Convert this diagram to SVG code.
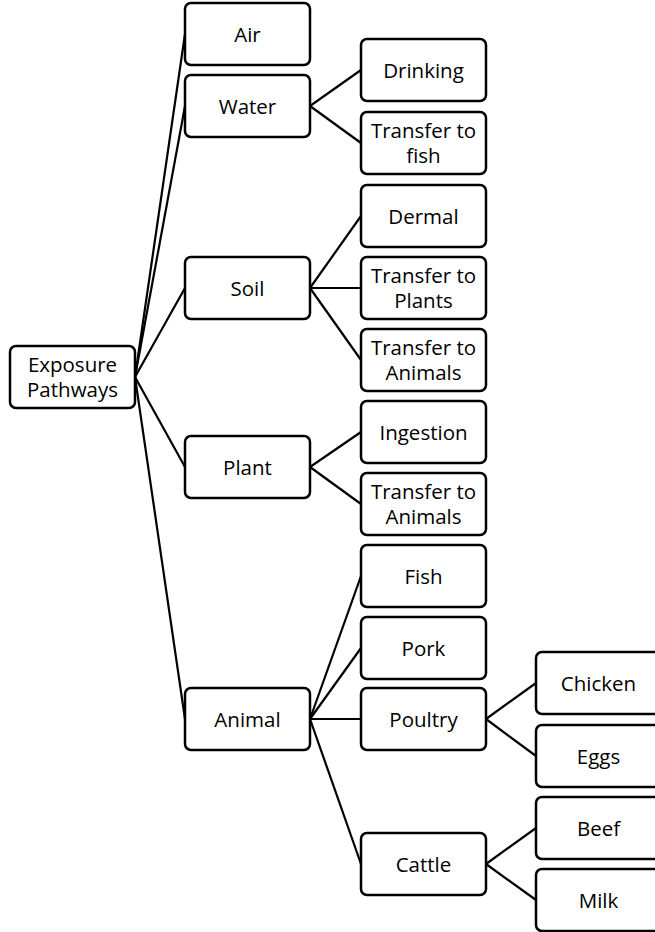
<svg xmlns="http://www.w3.org/2000/svg" width="655" height="932" viewBox="0 0 655 932">
<style>
.box{fill:#fff;stroke:#000;stroke-width:2.5}
.lbl{font-family:"Open Sans","Noto Sans",sans-serif;font-size:20.5px;fill:#000;text-anchor:middle}
.con line{stroke:#000;stroke-width:2.2}
</style>
<rect width="655" height="932" fill="#fff"/>
<g id="connectors" class="con">
<line x1="135" y1="377" x2="185" y2="34"/>
<line x1="135" y1="377" x2="185" y2="106"/>
<line x1="135" y1="377" x2="185" y2="288"/>
<line x1="135" y1="377" x2="185" y2="467"/>
<line x1="135" y1="377" x2="185" y2="719"/>
<line x1="310" y1="106" x2="361" y2="70"/>
<line x1="310" y1="106" x2="361" y2="143"/>
<line x1="310" y1="288" x2="361" y2="216"/>
<line x1="310" y1="288" x2="361" y2="288"/>
<line x1="310" y1="288" x2="361" y2="360"/>
<line x1="310" y1="467" x2="361" y2="432"/>
<line x1="310" y1="467" x2="361" y2="504"/>
<line x1="310" y1="719" x2="361" y2="576"/>
<line x1="310" y1="719" x2="361" y2="648"/>
<line x1="310" y1="719" x2="361" y2="719"/>
<line x1="310" y1="719" x2="361" y2="864"/>
<line x1="486" y1="719" x2="536" y2="683"/>
<line x1="486" y1="719" x2="536" y2="756"/>
<line x1="486" y1="864" x2="536" y2="828"/>
<line x1="486" y1="864" x2="536" y2="900"/>
</g>
<g id="exposure"><rect class="box" x="10" y="346" width="125" height="62" rx="6"/><text class="lbl" x="72.5" y="372">Exposure</text><text class="lbl" x="72.5" y="397">Pathways</text></g>
<g id="air"><rect class="box" x="185" y="3" width="125" height="62" rx="6"/><text class="lbl" x="247.5" y="41.5">Air</text></g>
<g id="water"><rect class="box" x="185" y="75" width="125" height="62" rx="6"/><text class="lbl" x="247.5" y="113.5">Water</text></g>
<g id="soil"><rect class="box" x="185" y="257" width="125" height="62" rx="6"/><text class="lbl" x="247.5" y="295.5">Soil</text></g>
<g id="plant"><rect class="box" x="185" y="436" width="125" height="62" rx="6"/><text class="lbl" x="247.5" y="474.5">Plant</text></g>
<g id="animal"><rect class="box" x="185" y="688" width="125" height="62" rx="6"/><text class="lbl" x="247.5" y="726.5">Animal</text></g>
<g id="drinking"><rect class="box" x="361" y="39" width="125" height="62" rx="6"/><text class="lbl" x="423.5" y="77.5">Drinking</text></g>
<g id="transfer-fish"><rect class="box" x="361" y="112" width="125" height="62" rx="6"/><text class="lbl" x="423.5" y="137.5">Transfer to</text><text class="lbl" x="423.5" y="162.5">fish</text></g>
<g id="dermal"><rect class="box" x="361" y="185" width="125" height="62" rx="6"/><text class="lbl" x="423.5" y="223.5">Dermal</text></g>
<g id="transfer-plants"><rect class="box" x="361" y="257" width="125" height="62" rx="6"/><text class="lbl" x="423.5" y="283">Transfer to</text><text class="lbl" x="423.5" y="308">Plants</text></g>
<g id="transfer-animals-soil"><rect class="box" x="361" y="329" width="125" height="62" rx="6"/><text class="lbl" x="423.5" y="355">Transfer to</text><text class="lbl" x="423.5" y="380">Animals</text></g>
<g id="ingestion"><rect class="box" x="361" y="401" width="125" height="62" rx="6"/><text class="lbl" x="423.5" y="439.5">Ingestion</text></g>
<g id="transfer-animals-plant"><rect class="box" x="361" y="473" width="125" height="62" rx="6"/><text class="lbl" x="423.5" y="499">Transfer to</text><text class="lbl" x="423.5" y="524">Animals</text></g>
<g id="fish"><rect class="box" x="361" y="545" width="125" height="62" rx="6"/><text class="lbl" x="423.5" y="583.5">Fish</text></g>
<g id="pork"><rect class="box" x="361" y="617" width="125" height="62" rx="6"/><text class="lbl" x="423.5" y="655.5">Pork</text></g>
<g id="poultry"><rect class="box" x="361" y="688" width="125" height="62" rx="6"/><text class="lbl" x="423.5" y="726.5">Poultry</text></g>
<g id="cattle"><rect class="box" x="361" y="833" width="125" height="62" rx="6"/><text class="lbl" x="423.5" y="871.5">Cattle</text></g>
<g id="chicken"><rect class="box" x="536" y="652" width="125" height="62" rx="6"/><text class="lbl" x="598.5" y="690.5">Chicken</text></g>
<g id="eggs"><rect class="box" x="536" y="725" width="125" height="62" rx="6"/><text class="lbl" x="598.5" y="763.5">Eggs</text></g>
<g id="beef"><rect class="box" x="536" y="797" width="125" height="62" rx="6"/><text class="lbl" x="598.5" y="835.5">Beef</text></g>
<g id="milk"><rect class="box" x="536" y="869" width="125" height="62" rx="6"/><text class="lbl" x="598.5" y="907.5">Milk</text></g>
</svg>
